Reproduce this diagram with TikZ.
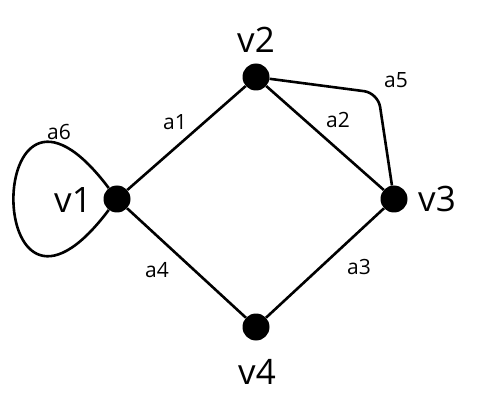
\documentclass[tikz,border=0pt]{standalone}
\usepackage{fontspec}
\setmainfont{Open Sans}
\newcommand{\sizevname}{\fontsize{35}{35}\selectfont}
\newcommand{\sizeename}{\fontsize{21}{21}\selectfont}
\tikzset{
    vertex/.style={circle, fill=black, minimum size=27pt, inner sep=0pt},
    vname/.style={font=\sizevname, inner sep=0pt},
    ename/.style={font=\sizeename, inner sep=0pt},
    arc/.style={line width=2.6pt, line join=round},
}

\begin{document}
\begin{tikzpicture}[x=1pt, y=1pt]
    \useasboundingbox (0,0) rectangle (483,408);
    \path
        node[vertex] (v1) at (117,209) {}
        node[vertex] (v2) at (256,331) {}
        node[vertex] (v3) at (394,209) {}
        node[vertex] (v4) at (256,81) {};
    \coordinate (c5) at (378,315);

    \draw[arc] (v1) -- (v2) -- (v3) -- (v4) -- (v1);
    \draw[arc, rounded corners=14pt] (v2) -- (c5) -- (v3);
    \draw[arc] (v1) .. controls +(127:225) and +(233:225) .. (v1);

    % vertex names
    \node[vname] (n1) at (73,208) {v1};
    \node[vname] (n2) at (256,368) {v2};
    \node[vname] (n3) at (437,209) {v3};
    \node[vname] (n4) at (257,36) {v4};
    % edge names
    \node[ename] (e1) at (175,286) {a1};
    \node[ename] (e2) at (338,288) {a2};
    \node[ename] (e3) at (359,141) {a3};
    \node[ename] (e4) at (157,138) {a4};
    \node[ename] (e5) at (396,328) {a5};
    \node[ename] (e6) at (59,276) {a6};
\end{tikzpicture}
\end{document}
